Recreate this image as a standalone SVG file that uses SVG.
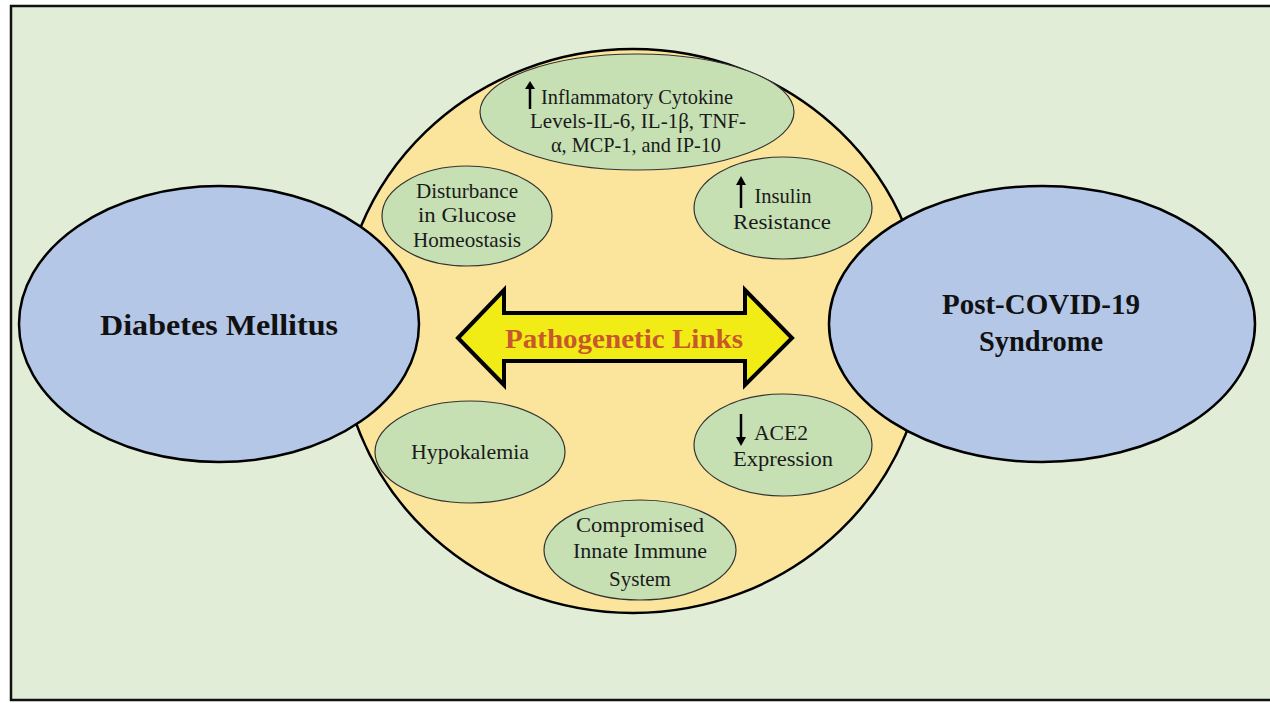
<svg xmlns="http://www.w3.org/2000/svg" width="1270" height="703" viewBox="0 0 1270 703">
<style>
.t{font-family:"Liberation Serif","Times New Roman",serif;font-size:22px;fill:#1a1a1a;text-anchor:middle}
.b{font-family:"Liberation Serif","Times New Roman",serif;font-weight:bold;font-size:30px;fill:#111;text-anchor:middle}
.g{fill:#c6e0b4;stroke:#333;stroke-width:1.2}
.bl{fill:#b4c7e7;stroke:#000;stroke-width:2.5}
.up{stroke:#000;stroke-width:2.5;fill:none}
</style>
<rect x="0" y="0" width="1270" height="703" fill="#ffffff"/>
<rect x="11" y="6" width="1262" height="694" fill="#e2edd8" stroke="#111" stroke-width="2.5"/>
<g id="center">
<ellipse cx="633" cy="331" rx="293" ry="282" fill="#fbe49b" stroke="#000" stroke-width="2.5"/>
</g>
<g id="diabetes">
<ellipse class="bl" cx="219" cy="324" rx="200" ry="138"/>
<text class="b" x="219" y="335" textLength="238" lengthAdjust="spacingAndGlyphs">Diabetes Mellitus</text>
</g>
<g id="postcovid">
<ellipse class="bl" cx="1042" cy="324" rx="213" ry="138"/>
<text class="b" x="1041" y="314" textLength="198" lengthAdjust="spacingAndGlyphs">Post-COVID-19</text>
<text class="b" x="1041" y="351" textLength="124" lengthAdjust="spacingAndGlyphs">Syndrome</text>
</g>
<g id="cytokine">
<ellipse class="g" cx="637" cy="112" rx="157" ry="58"/>
<line class="up" x1="530" y1="109" x2="530" y2="86"/>
<path d="M525,89 L530,81 L535,89 Z" fill="#000"/>
<text class="t" x="637" y="104" textLength="192" lengthAdjust="spacingAndGlyphs">Inflammatory  Cytokine</text>
<text class="t" x="638" y="128" textLength="216" lengthAdjust="spacingAndGlyphs">Levels-IL-6,  IL-1β,  TNF-</text>
<text class="t" x="636" y="152" textLength="170" lengthAdjust="spacingAndGlyphs">α, MCP-1, and IP-10</text>
</g>
<g id="glucose">
<ellipse class="g" cx="467" cy="216" rx="85" ry="50"/>
<text class="t" x="467" y="198" textLength="102" lengthAdjust="spacingAndGlyphs">Disturbance</text>
<text class="t" x="467" y="222" textLength="98" lengthAdjust="spacingAndGlyphs">in Glucose</text>
<text class="t" x="467" y="247" textLength="108" lengthAdjust="spacingAndGlyphs">Homeostasis</text>
</g>
<g id="insulin">
<ellipse class="g" cx="783" cy="208" rx="89" ry="51"/>
<line class="up" x1="741" y1="208" x2="741" y2="182"/>
<path d="M736,185 L741,176 L746,185 Z" fill="#000"/>
<text class="t" x="783" y="203" textLength="57" lengthAdjust="spacingAndGlyphs">Insulin</text>
<text class="t" x="782" y="229" textLength="98" lengthAdjust="spacingAndGlyphs">Resistance</text>
</g>
<g id="hypokalemia">
<ellipse class="g" cx="470" cy="452" rx="95" ry="51"/>
<text class="t" x="470" y="459" textLength="118" lengthAdjust="spacingAndGlyphs">Hypokalemia</text>
</g>
<g id="ace2">
<ellipse class="g" cx="783" cy="445" rx="89" ry="51"/>
<line class="up" x1="741" y1="414" x2="741" y2="440"/>
<path d="M736,437 L741,446 L746,437 Z" fill="#000"/>
<text class="t" x="781" y="440" textLength="54" lengthAdjust="spacingAndGlyphs">ACE2</text>
<text class="t" x="783" y="466" textLength="100" lengthAdjust="spacingAndGlyphs">Expression</text>
</g>
<g id="immune">
<ellipse class="g" cx="640" cy="550" rx="96" ry="50"/>
<text class="t" x="640" y="532" textLength="128" lengthAdjust="spacingAndGlyphs">Compromised</text>
<text class="t" x="640" y="558" textLength="134" lengthAdjust="spacingAndGlyphs">Innate Immune</text>
<text class="t" x="640" y="586" textLength="62" lengthAdjust="spacingAndGlyphs">System</text>
</g>
<g id="connectors">
<path d="M458,338 L504,290 L504,313 L745,313 L745,290 L792,338 L745,385 L745,361 L504,361 L504,385 Z" fill="#f2ec16" stroke="#000" stroke-width="4" stroke-linejoin="miter"/>
<text x="624" y="348" font-family="'Liberation Serif','Times New Roman',serif" font-weight="bold" font-size="28" fill="#c8582a" text-anchor="middle" textLength="238" lengthAdjust="spacingAndGlyphs">Pathogenetic Links</text>
</g>
</svg>
